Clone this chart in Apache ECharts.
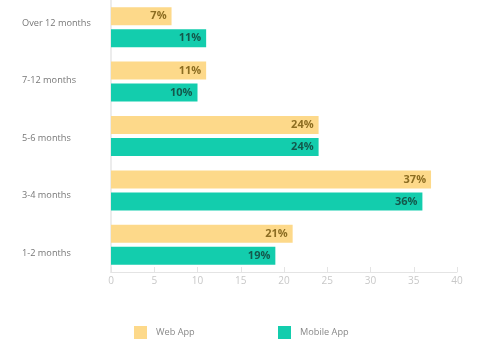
<!DOCTYPE html>
<html><head><meta charset="utf-8">
<script src="https://cdn.jsdelivr.net/npm/echarts@6/dist/echarts.min.js"></script>
<style>html,body{margin:0;padding:0;background:#fff}#c{width:478px;height:360px}</style>
</head><body><div id="c"></div>
<script>
var categories = ['Over 12 months', '7-12 months', '5-6 months', '3-4 months', '1-2 months'];
var webApp = [7, 11, 24, 37, 21];
var mobileApp = [11, 10, 24, 36, 19];
var xTicks = [0, 5, 10, 15, 20, 25, 30, 35, 40];

var chart = echarts.init(document.getElementById('c'));
var font = '"Open Sans", sans-serif';
chart.setOption({
  animation: false,
  textStyle: { fontFamily: font },
  legend: [
    { data: ['Web App'], left: 129, top: 321, itemWidth: 13, itemHeight: 13,
      icon: 'rect', textStyle: { color: '#888', fontSize: 9.2, fontFamily: font, padding: [0, 0, 0, 4] } },
    { data: ['Mobile App'], left: 273, top: 321, itemWidth: 13, itemHeight: 13,
      icon: 'rect', textStyle: { color: '#888', fontSize: 9.2, fontFamily: font, padding: [0, 0, 0, 4] } }
  ],
  grid: [
    { left: 111, right: 21, top: 0, bottom: 88 },
    { left: 111, right: 21, top: 0, bottom: 72.5 }
  ],
  xAxis: [
    { type: 'value', gridIndex: 0, min: 0, max: 40, interval: 5,
      axisLine: { show: true, lineStyle: { color: '#e4e4e4', width: 1 } },
      axisTick: { show: true, inside: true, length: 5, lineStyle: { color: '#e4e4e4' } },
      splitLine: { show: false },
      axisLabel: { color: '#c8c8c8', fontSize: 10, margin: 4, fontFamily: font,
        formatter: function (v) { return xTicks.indexOf(v) >= 0 ? String(v) : ''; } } },
    { type: 'value', gridIndex: 1, show: false, min: 0, max: 40 }
  ],
  yAxis: [
    { type: 'category', gridIndex: 0, data: categories, inverse: true,
      axisLine: { show: true, lineStyle: { color: '#ececec', width: 2 } },
      axisTick: { show: false }, axisLabel: { show: false } },
    { type: 'category', gridIndex: 1, data: categories, inverse: true,
      axisLine: { show: false }, axisTick: { show: false },
      axisLabel: { show: true, align: 'left', verticalAlign: 'bottom', lineHeight: 11,
        margin: 89, color: '#777', fontSize: 9.2, fontFamily: font } }
  ],
  series: [
    { name: 'Web App', type: 'bar', data: webApp, xAxisIndex: 0, yAxisIndex: 0,
      barWidth: 18, barGap: '22%',
      itemStyle: { color: '#fdd98a' },
      label: { show: true, position: 'insideRight', distance: 5, formatter: '{c}%',
        color: '#8c6d22', fontWeight: 'bold', fontSize: 11, fontFamily: font } },
    { name: 'Mobile App', type: 'bar', data: mobileApp, xAxisIndex: 0, yAxisIndex: 0,
      barWidth: 18, barGap: '22%',
      itemStyle: { color: '#13cdad' },
      label: { show: true, position: 'insideRight', distance: 5, formatter: '{c}%',
        color: '#14584c', fontWeight: 'bold', fontSize: 11, fontFamily: font } }
  ]
});
</script></body></html>
